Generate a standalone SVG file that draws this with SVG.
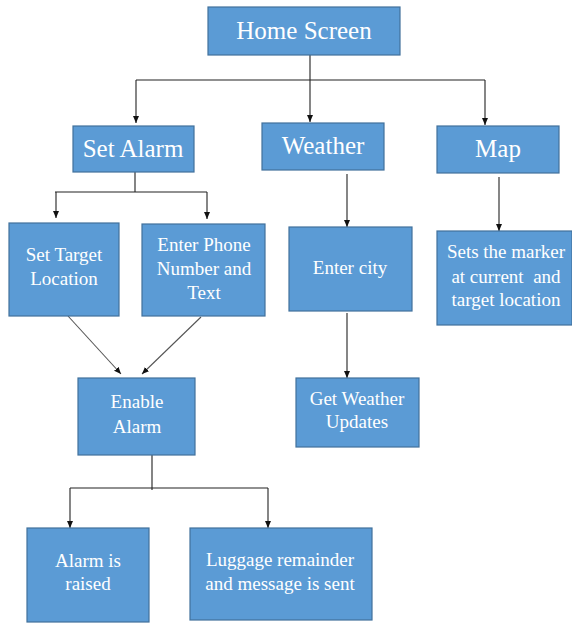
<svg xmlns="http://www.w3.org/2000/svg" width="572" height="623" viewBox="0 0 572 623">
<defs>
<marker id="ah" markerWidth="8" markerHeight="8" refX="7" refY="4" orient="auto" markerUnits="userSpaceOnUse">
<path d="M0,1 L7,4 L0,7 Z" fill="#111"/>
</marker>
<style>
.box{fill:#5B9BD5;stroke:#41719C;stroke-width:1.2}
.t{font-family:"Liberation Serif","Times New Roman",serif;fill:#fff;text-anchor:middle}
.big{font-size:25px}
.sm{font-size:19px}
.c{fill:none;stroke:#222;stroke-width:1.1}
.ca{fill:none;stroke:#222;stroke-width:1.1;marker-end:url(#ah)}
.cd{fill:none;stroke:#555;stroke-width:1.1;marker-end:url(#ah)}
</style>
</defs>
<rect width="572" height="623" fill="#fff"/>
<g id="connectors">
<path class="c" d="M310,55 V80 M136,80 H485"/>
<path class="ca" d="M136,80 V123"/>
<path class="ca" d="M310,80 V122"/>
<path class="ca" d="M485,80 V125"/>
<path class="c" d="M135,172 V192 M55,192 H207"/>
<path class="ca" d="M56,192 V218"/>
<path class="ca" d="M207,192 V219"/>
<path class="ca" d="M347,174 V227"/>
<path class="ca" d="M499,177 V231"/>
<path class="cd" d="M68,316 L121,374"/>
<path class="cd" d="M201,317 L142,374"/>
<path class="ca" d="M347,313 V378"/>
<path class="c" d="M152,455 V490 M70,488 H268"/>
<path class="ca" d="M70,488 V528"/>
<path class="ca" d="M268,488 V528"/>
</g>
<g id="home"><rect class="box" x="208" y="7" width="192" height="48"/><text class="t big" x="304" y="39">Home Screen</text></g>
<g id="setalarm"><rect class="box" x="73" y="126" width="121" height="46"/><text class="t big" x="133" y="157">Set Alarm</text></g>
<g id="weather"><rect class="box" x="262" y="123" width="122" height="47"/><text class="t big" x="323" y="154">Weather</text></g>
<g id="map"><rect class="box" x="437" y="126" width="122" height="47"/><text class="t big" x="498" y="157">Map</text></g>
<g id="settarget"><rect class="box" x="9" y="223" width="110" height="93"/><text class="t sm" x="64" y="261">Set Target</text><text class="t sm" x="64" y="285">Location</text></g>
<g id="enterphone"><rect class="box" x="142" y="224" width="123" height="92"/><text class="t sm" x="204" y="251">Enter Phone</text><text class="t sm" x="204" y="275">Number and</text><text class="t sm" x="204" y="299">Text</text></g>
<g id="entercity"><rect class="box" x="289" y="227" width="123" height="84"/><text class="t sm" x="350" y="274">Enter city</text></g>
<g id="marker"><rect class="box" x="437" y="231" width="135" height="94"/><text class="t sm" x="506" y="258">Sets the marker</text><text class="t sm" x="506" y="283" xml:space="preserve">at current  and</text><text class="t sm" x="506" y="306">target location</text></g>
<g id="enable"><rect class="box" x="78" y="378" width="117" height="77"/><text class="t sm" x="137" y="408">Enable</text><text class="t sm" x="137" y="433">Alarm</text></g>
<g id="getweather"><rect class="box" x="296" y="378" width="123" height="69"/><text class="t sm" x="357" y="405">Get Weather</text><text class="t sm" x="357" y="428">Updates</text></g>
<g id="raised"><rect class="box" x="27" y="528" width="122" height="94"/><text class="t sm" x="88" y="567">Alarm is</text><text class="t sm" x="88" y="590">raised</text></g>
<g id="luggage"><rect class="box" x="190" y="528" width="182" height="92"/><text class="t sm" x="280" y="566">Luggage remainder</text><text class="t sm" x="280" y="590">and message is sent</text></g>
</svg>
